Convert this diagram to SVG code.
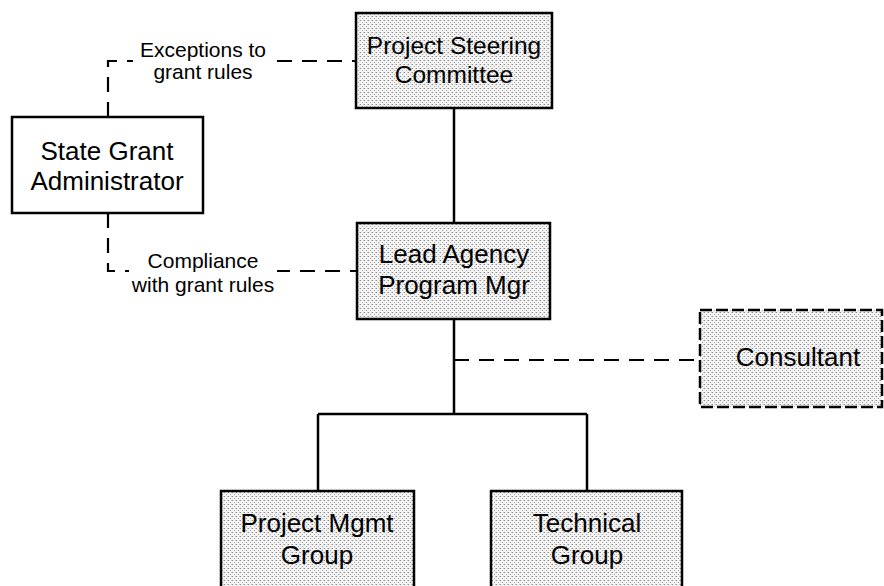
<svg xmlns="http://www.w3.org/2000/svg" width="884" height="586" viewBox="0 0 884 586">
<defs>
<pattern id="stip" width="4" height="4" patternUnits="userSpaceOnUse">
<rect width="4" height="4" fill="#f3f3f3"/>
<rect x="0" y="0" width="1" height="1" fill="#8a8a8a"/>
<rect x="2" y="2" width="1" height="1" fill="#a5a5a5"/>
<rect x="3" y="0" width="1" height="1" fill="#c8c8c8"/>
</pattern>
</defs>
<style>
.box{fill:url(#stip);stroke:#000;stroke-width:2.5}
.plain{fill:#fff;stroke:#000;stroke-width:2.5}
.dbox{fill:url(#stip);stroke:#000;stroke-width:2.5;stroke-dasharray:12 4}
.t{font-family:"Liberation Sans",Arial,sans-serif;font-size:26px;fill:#000;text-anchor:middle}
.lbl{font-family:"Liberation Sans",Arial,sans-serif;font-size:21px;fill:#000;text-anchor:middle}
.solid{fill:none;stroke:#000;stroke-width:2.5}
.dash{fill:none;stroke:#000;stroke-width:2.2;stroke-dasharray:15 10}
.bg{fill:#fff}
</style>
<rect width="884" height="586" fill="#fff"/>
<g id="connectors">
<path class="solid" d="M454 108 V223"/>
<path class="solid" d="M454 319 V414 M318 414 H587 M318 414 V491 M587 414 V491"/>
<path class="dash" d="M454 360 H700"/>
<path class="dash" d="M108 117 V61 H356"/>
<path class="dash" d="M108 213 V271 H357"/>
<g id="label-exceptions">
<rect class="bg" x="133" y="40" width="134" height="46"/>
<text class="lbl" x="203" y="57">Exceptions to</text>
<text class="lbl" x="203" y="79">grant rules</text>
</g>
<g id="label-compliance">
<rect class="bg" x="129" y="250" width="148" height="48"/>
<text class="lbl" x="203" y="268">Compliance</text>
<text class="lbl" x="203" y="292">with grant rules</text>
</g>
</g>
<g id="steering">
<rect class="box" x="356" y="13" width="196" height="95"/>
<text class="t" x="454" y="54" style="font-size:24.5px">Project Steering</text>
<text class="t" x="454" y="83" style="font-size:24.5px">Committee</text>
</g>
<g id="admin">
<rect class="plain" x="12" y="117" width="191" height="96"/>
<text class="t" x="107" y="160">State Grant</text>
<text class="t" x="107" y="190">Administrator</text>
</g>
<g id="lead">
<rect class="box" x="357" y="223" width="193" height="96"/>
<text class="t" x="454" y="263">Lead Agency</text>
<text class="t" x="454" y="294">Program Mgr</text>
</g>
<g id="consultant">
<rect class="dbox" x="700" y="310" width="182" height="97"/>
<text class="t" x="798" y="366">Consultant</text>
</g>
<g id="pmgroup">
<rect class="box" x="221" y="491" width="193" height="110"/>
<text class="t" x="317" y="532">Project Mgmt</text>
<text class="t" x="317" y="564">Group</text>
</g>
<g id="techgroup">
<rect class="box" x="491" y="491" width="191" height="110"/>
<text class="t" x="587" y="532">Technical</text>
<text class="t" x="587" y="564">Group</text>
</g>
</svg>
